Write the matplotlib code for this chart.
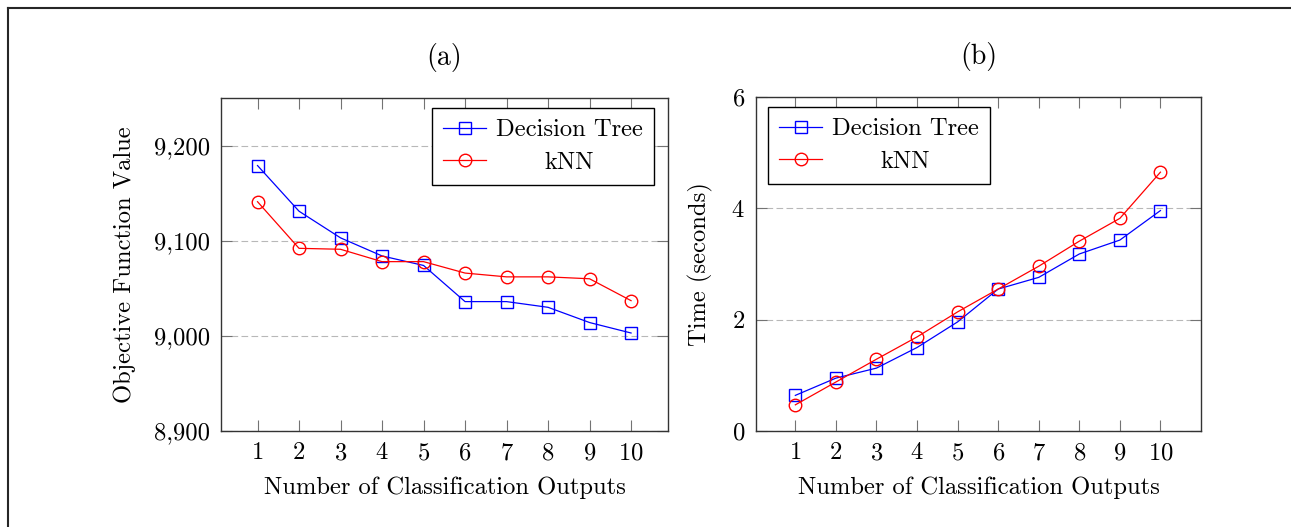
import matplotlib
matplotlib.use("Agg")
import matplotlib.pyplot as plt
from matplotlib.lines import Line2D
from matplotlib.ticker import FuncFormatter
from matplotlib.transforms import Affine2D

plt.rcParams['font.family'] = ['cmr10', 'DejaVu Serif']
plt.rcParams['axes.formatter.use_mathtext'] = True
plt.rcParams['font.size'] = 17.7

# data
outputs = [1, 2, 3, 4, 5, 6, 7, 8, 9, 10]
obj_tree = [9179, 9131, 9103, 9084, 9074, 9036, 9036, 9030, 9014, 9003]
obj_knn = [9141, 9092, 9091, 9078, 9078, 9066, 9062, 9062, 9060, 9037]
time_tree = [0.64, 0.95, 1.13, 1.50, 1.96, 2.55, 2.76, 3.18, 3.43, 3.96]
time_knn = [0.47, 0.88, 1.29, 1.69, 2.14, 2.55, 2.96, 3.41, 3.82, 4.65]
series_names = ['Decision Tree', 'kNN']

W, H = 1291, 527
fig = plt.figure(figsize=(W / 100, H / 100), dpi=100)

# outer frame lines (top and left only)
fig.add_artist(Line2D([7.5 / W, 7.5 / W], [0, 1 - 8 / H], color='0.15', lw=1.5))
fig.add_artist(Line2D([7.5 / W, 1], [1 - 8 / H, 1 - 8 / H], color='0.15', lw=1.5))

ax1 = fig.add_axes([221 / W, (H - 431) / H, 447 / W, 333 / H])
ax2 = fig.add_axes([756 / W, (H - 431) / H, 445 / W, 334 / H])


def style(ax):
    ax.set_xticks(outputs)
    ax.tick_params(direction='in', length=8, width=0.8, color='0.45',
                   top=True, right=True, pad=8)
    ax.yaxis.grid(True, color='0.72', lw=0.8, dashes=(6, 3))
    ax.set_axisbelow(True)
    for s in ax.spines.values():
        s.set_linewidth(1.0)
        s.set_color('0.2')
    ax.set_xlabel('Number of Classification Outputs', labelpad=9)


def legend(ax, **kw):
    leg = ax.legend(frameon=True, fancybox=False, edgecolor='black',
                    framealpha=1, borderaxespad=0, handlelength=1.75,
                    handletextpad=0.4, borderpad=0.45, labelspacing=0.42, **kw)
    leg.get_frame().set_linewidth(1.0)
    return leg


for ax, ya, yb in [(ax1, obj_tree, obj_knn), (ax2, time_tree, time_knn)]:
    ax.plot(outputs, ya, color='blue', marker='s', mfc='none', ms=8.5,
            mew=1.0, lw=0.9, label=series_names[0])
    ax.plot(outputs, yb, color='red', marker='o', mfc='none', ms=9,
            mew=1.0, lw=0.9, label=series_names[1])
    style(ax)

ax1.set_xlim(0.12, 10.89)
ax1.set_ylim(8900, 9250)
ax1.set_yticks([8900, 9000, 9100, 9200])
ax1.yaxis.set_major_formatter(FuncFormatter(lambda v, p: f'{int(v):,}'))
ax1.set_ylabel('Objective Function Value', labelpad=13)
ax1.set_title('(a)', pad=24, fontsize=20)

ax2.set_xlim(0.03, 11.0)
ax2.set_ylim(0, 6)
ax2.set_yticks([0, 2, 4, 6])
ax2.set_ylabel('Time (seconds)', labelpad=13)
ax2.set_title('(b)', pad=24, fontsize=20)

legs = [legend(ax1, loc='upper right', bbox_to_anchor=(1 - 14 / 447, 1 - 10 / 333)),
        legend(ax2, loc='upper left', bbox_to_anchor=(12 / 445, 1 - 10 / 333))]

# center legend entries like pgfplots
fig.canvas.draw()
r = fig.canvas.get_renderer()
for leg in legs:
    texts = leg.get_texts()
    widths = [t.get_window_extent(r).width for t in texts]
    wmax = max(widths)
    for t, w in zip(texts, widths):
        t.set_transform(t.get_transform() + Affine2D().translate((wmax - w) / 2, 0))

fig.savefig('out.png', dpi=100)
